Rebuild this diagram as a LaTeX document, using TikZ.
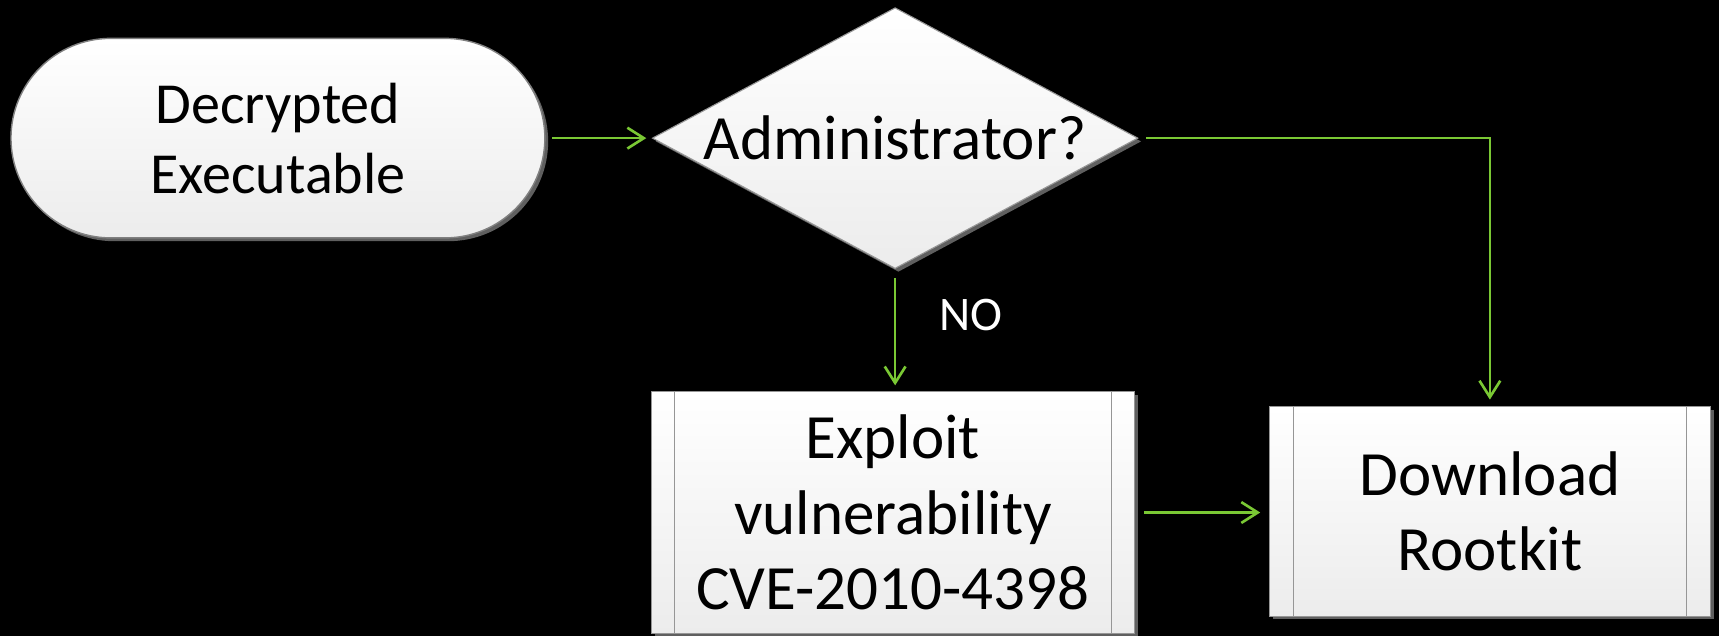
\documentclass[tikz,border=0pt]{standalone}
\usepackage{fontspec}
\setmainfont{Carlito}
\usetikzlibrary{shapes.geometric,shadows,arrows.meta}
\definecolor{flowgreen}{RGB}{122,200,52}
\definecolor{edgegray}{RGB}{150,150,150}
\definecolor{shadowgray}{RGB}{95,95,95}
\definecolor{fillbottom}{RGB}{236,236,236}
\begin{document}
\begin{tikzpicture}[x=1pt,y=-1pt,
  shapebase/.style={draw=edgegray, line width=1pt, top color=white,
    bottom color=fillbottom, inner sep=0pt, align=center,
    general shadow={fill=shadowgray, shadow xshift=3pt, shadow yshift=-3pt}},
  boxfont/.style={font=\fontsize{57.5}{69}\selectfont},
  flow/.style={draw=flowgreen, line width=2.4pt,
    -{Straight Barb[length=15pt,width=19pt,line width=2.4pt]}}
]
% page and background
\fill[black] (0,0) rectangle (1568,580);
\useasboundingbox (0,0) rectangle (1568,580);

% shapes
\node[shapebase, draw=gray, line width=1.3pt, rectangle, rounded corners=91pt,
  minimum width=487pt, minimum height=182pt, font=\fontsize{53}{64}\selectfont]
  (dec) at (253.5,126) {Decrypted\\Executable};

\node[shapebase, diamond, minimum width=443pt, minimum height=238pt,
  label={[boxfont, inner sep=0pt]center:Administrator?}]
  (adm) at (816.5,126) {};

\node[shapebase, rectangle, minimum width=441pt, minimum height=221pt, boxfont]
  (ex) at (814.5,467.5) {Exploit\\vulnerability\\CVE-2010-4398};

\node[shapebase, rectangle, minimum width=402pt, minimum height=191pt, boxfont]
  (dl) at (1359,466.5) {Download\\Rootkit};

% side bars of the predefined-process boxes
\draw[edgegray, line width=1pt]
  ([xshift=22pt]ex.north west) -- ([xshift=22pt]ex.south west)
  ([xshift=-22pt]ex.north east) -- ([xshift=-22pt]ex.south east)
  ([xshift=22pt]dl.north west) -- ([xshift=22pt]dl.south west)
  ([xshift=-22pt]dl.north east) -- ([xshift=-22pt]dl.south east);

% branch label
\node[text=white, font=\fontsize{44}{53}\selectfont, inner sep=0pt]
  (no) at (886,287) {NO};

% connectors
\draw[flow, shorten <=6pt, shorten >=5pt] (dec.east) -- (adm.west);
\draw[flow, shorten <=7pt, shorten >=6pt] (adm.east) -| (dl.north);
\draw[flow, shorten <=8pt, shorten >=5pt] (adm.south) -- (adm.south |- ex.north);
\draw[flow, shorten <=8pt, shorten >=8pt] (ex.east) -- (ex.east -| dl.west);
\end{tikzpicture}
\end{document}
